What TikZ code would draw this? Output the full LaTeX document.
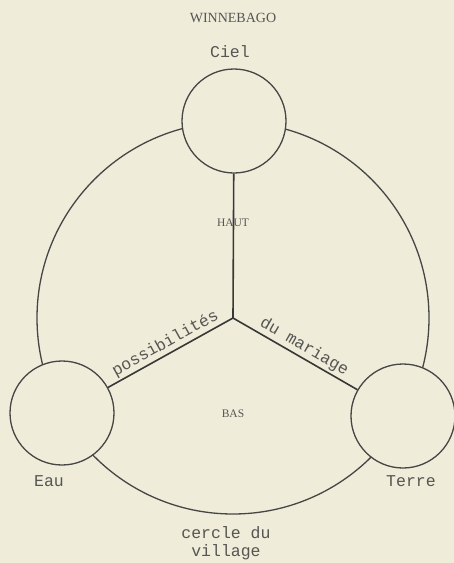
\documentclass[tikz,border=0pt]{standalone}
\usepackage{fontspec}
\setmainfont{Liberation Serif}
\setmonofont{Liberation Mono}
\usepackage{tikz}
\usetikzlibrary{positioning}

\definecolor{paper}{RGB}{239,236,218}
\definecolor{ink}{RGB}{70,70,68}
\definecolor{inktext}{RGB}{85,85,82}

\tikzset{
  pole/.style={circle, draw=ink, line width=1.3pt, fill=paper, minimum size=104pt, inner sep=0pt},
  spoke/.style={draw=ink!80!black, line width=1.6pt},
  tlabel/.style={font=\fontsize{16.5}{18}\selectfont\ttfamily, text=inktext, inner sep=1pt},
  caplabel/.style={font=\fontsize{11.5}{12}\selectfont, text=inktext, inner sep=1pt}
}

\begin{document}
\begin{tikzpicture}[x=1pt, y=-1pt]
  % paper
  \fill[paper] (0,0) rectangle (454,563);
  \useasboundingbox (0,0) rectangle (454,563);

  % title
  \node[font=\fontsize{14}{16}\selectfont, text=inktext] (tribe) at (233,18) {WINNEBAGO};

  % village circle
  \coordinate (mid) at (233,318);
  \draw[ink, line width=1.3pt] (mid) circle (196);

  % the three poles
  \node[pole] (ciel)  at (234,121) {};
  \node[pole] (eau)   at (62,413)  {};
  \node[pole] (terre) at (403,416) {};

  % spokes
  \draw[spoke] (mid) -- (ciel);
  \draw[spoke] (eau) -- (mid) node[pos=0.5, sloped, above=1pt, tlabel] (poss) {possibilités};
  \draw[spoke] (mid) -- (terre) node[pos=0.53, sloped, above=1pt, tlabel] (mar) {du mariage};

  % labels
  \node[tlabel] (cieltxt)  at (230,52)  {Ciel};
  \node[tlabel] (eautxt)   at (49,481)  {Eau};
  \node[tlabel] (terretxt) at (411,481) {Terre};
  \node[tlabel, align=center] (cercle) at (226,543) {cercle du\\village};
  \node[caplabel] (haut) at (233,223) {HAUT};
  \node[caplabel] (bas)  at (233,414) {BAS};
\end{tikzpicture}
\end{document}
